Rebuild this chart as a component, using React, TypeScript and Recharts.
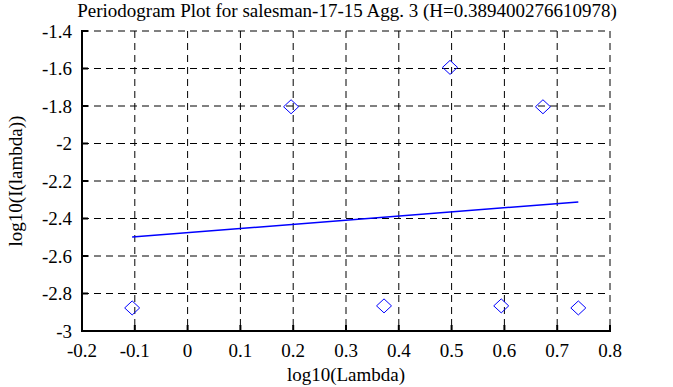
import React from 'react';
import { ScatterChart, Scatter, XAxis, YAxis, CartesianGrid, Label } from 'recharts';

const pointX = [-0.105, 0.196, 0.372, 0.497, 0.594, 0.673, 0.74];
const pointY = [-2.877, -1.804, -2.866, -1.594, -2.866, -1.804, -2.877];
const fitX = [-0.105, 0.74];
const fitY = [-2.499, -2.312];
const xTicks = [-0.2, -0.1, 0, 0.1, 0.2, 0.3, 0.4, 0.5, 0.6, 0.7, 0.8];
const yTicks = [-3, -2.8, -2.6, -2.4, -2.2, -2, -1.8, -1.6, -1.4];
const titleText = 'Periodogram Plot for salesman-17-15 Agg. 3 (H=0.389400276610978)';
const xLabelText = 'log10(Lambda)';
const yLabelText = 'log10(I(lambda))';

const points = pointX.map((x, i) => ({ x, y: pointY[i] }));
const fit = fitX.map((x, i) => ({ x, y: fitY[i] }));

const FONT = "'Liberation Serif', 'Times New Roman', serif";
const FS = 19;
const BLUE = '#0000ff';
const TL = 6;

const BottomTick = (props: any) => {
  const { x, y, payload } = props;
  return (
    <g>
      <line x1={x} y1={y} x2={x} y2={y - TL} stroke="#000" strokeWidth={2} />
      <text x={x} y={y + 26} textAnchor="middle" style={{ fontFamily: FONT, fontSize: FS }} fill="#000">
        {String(payload.value)}
      </text>
    </g>
  );
};

const TopTick = (props: any) => {
  const { x, y } = props;
  return <line x1={x} y1={y} x2={x} y2={y + TL} stroke="#000" strokeWidth={2} />;
};

const LeftTick = (props: any) => {
  const { x, y, payload } = props;
  return (
    <g>
      <line x1={x} y1={y} x2={x + TL} y2={y} stroke="#000" strokeWidth={2} />
      <text x={x - 10} y={y} dy="0.35em" textAnchor="end" style={{ fontFamily: FONT, fontSize: FS }} fill="#000">
        {String(payload.value)}
      </text>
    </g>
  );
};

const RightTick = (props: any) => {
  const { x, y } = props;
  return <line x1={x} y1={y} x2={x - TL} y2={y} stroke="#000" strokeWidth={2} />;
};

const Diamond = (props: any) => {
  const { cx, cy } = props;
  if (cx == null || cy == null) return <g />;
  return (
    <path
      d={`M${cx},${cy - 7} L${cx + 7.5},${cy} L${cx},${cy + 7} L${cx - 7.5},${cy} Z`}
      fill="none"
      stroke={BLUE}
      strokeWidth={1}
    />
  );
};

const axisLine = { stroke: '#000', strokeWidth: 2, strokeLinecap: 'square' as const };

export default function App() {
  return (
    <div style={{ position: 'absolute', left: 0, top: 0, width: 673, height: 387 }}>
      <div
        style={{
          position: 'absolute',
          left: 0,
          top: 0,
          width: 694,
          textAlign: 'center',
          fontFamily: FONT,
          fontSize: FS,
          lineHeight: '22px',
          color: '#000',
          whiteSpace: 'nowrap',
        }}
      >
        {titleText}
      </div>
      <ScatterChart width={673} height={387} margin={{ top: 31, right: 63, bottom: 0, left: 2 }}>
        <CartesianGrid stroke="#000" strokeDasharray="7 5" strokeWidth={1} />
        <XAxis
          xAxisId={0}
          type="number"
          dataKey="x"
          domain={[-0.2, 0.8]}
          ticks={xTicks}
          interval={0}
          height={56}
          tickSize={0}
          tickMargin={0}
          tickLine={false}
          axisLine={axisLine}
          tick={<BottomTick />}
        >
          <Label value={xLabelText} position="insideBottom" offset={6} style={{ fontFamily: FONT, fontSize: FS }} fill="#000" />
        </XAxis>
        <XAxis
          xAxisId="top"
          orientation="top"
          type="number"
          dataKey="x"
          domain={[-0.2, 0.8]}
          ticks={xTicks}
          interval={0}
          height={0}
          tickSize={0}
          tickMargin={0}
          tickLine={false}
          axisLine={axisLine}
          tick={<TopTick />}
        />
        <YAxis
          yAxisId={0}
          type="number"
          dataKey="y"
          domain={[-3, -1.4]}
          ticks={yTicks}
          interval={0}
          width={80}
          tickSize={0}
          tickMargin={0}
          tickLine={false}
          axisLine={axisLine}
          tick={<LeftTick />}
        >
          <Label
            value={yLabelText}
            angle={-90}
            position="insideLeft"
            offset={13}
            fill="#000"
            style={{ textAnchor: 'middle', fontFamily: FONT, fontSize: FS }}
          />
        </YAxis>
        <YAxis
          yAxisId="right"
          orientation="right"
          type="number"
          dataKey="y"
          domain={[-3, -1.4]}
          ticks={yTicks}
          interval={0}
          width={0}
          tickSize={0}
          tickMargin={0}
          tickLine={false}
          axisLine={axisLine}
          tick={<RightTick />}
        />
        <Scatter data={points} shape={<Diamond />} isAnimationActive={false} />
        <Scatter
          data={fit}
          line={{ stroke: BLUE, strokeWidth: 1.5 }}
          shape={() => <g />}
          isAnimationActive={false}
        />
      </ScatterChart>
    </div>
  );
}
